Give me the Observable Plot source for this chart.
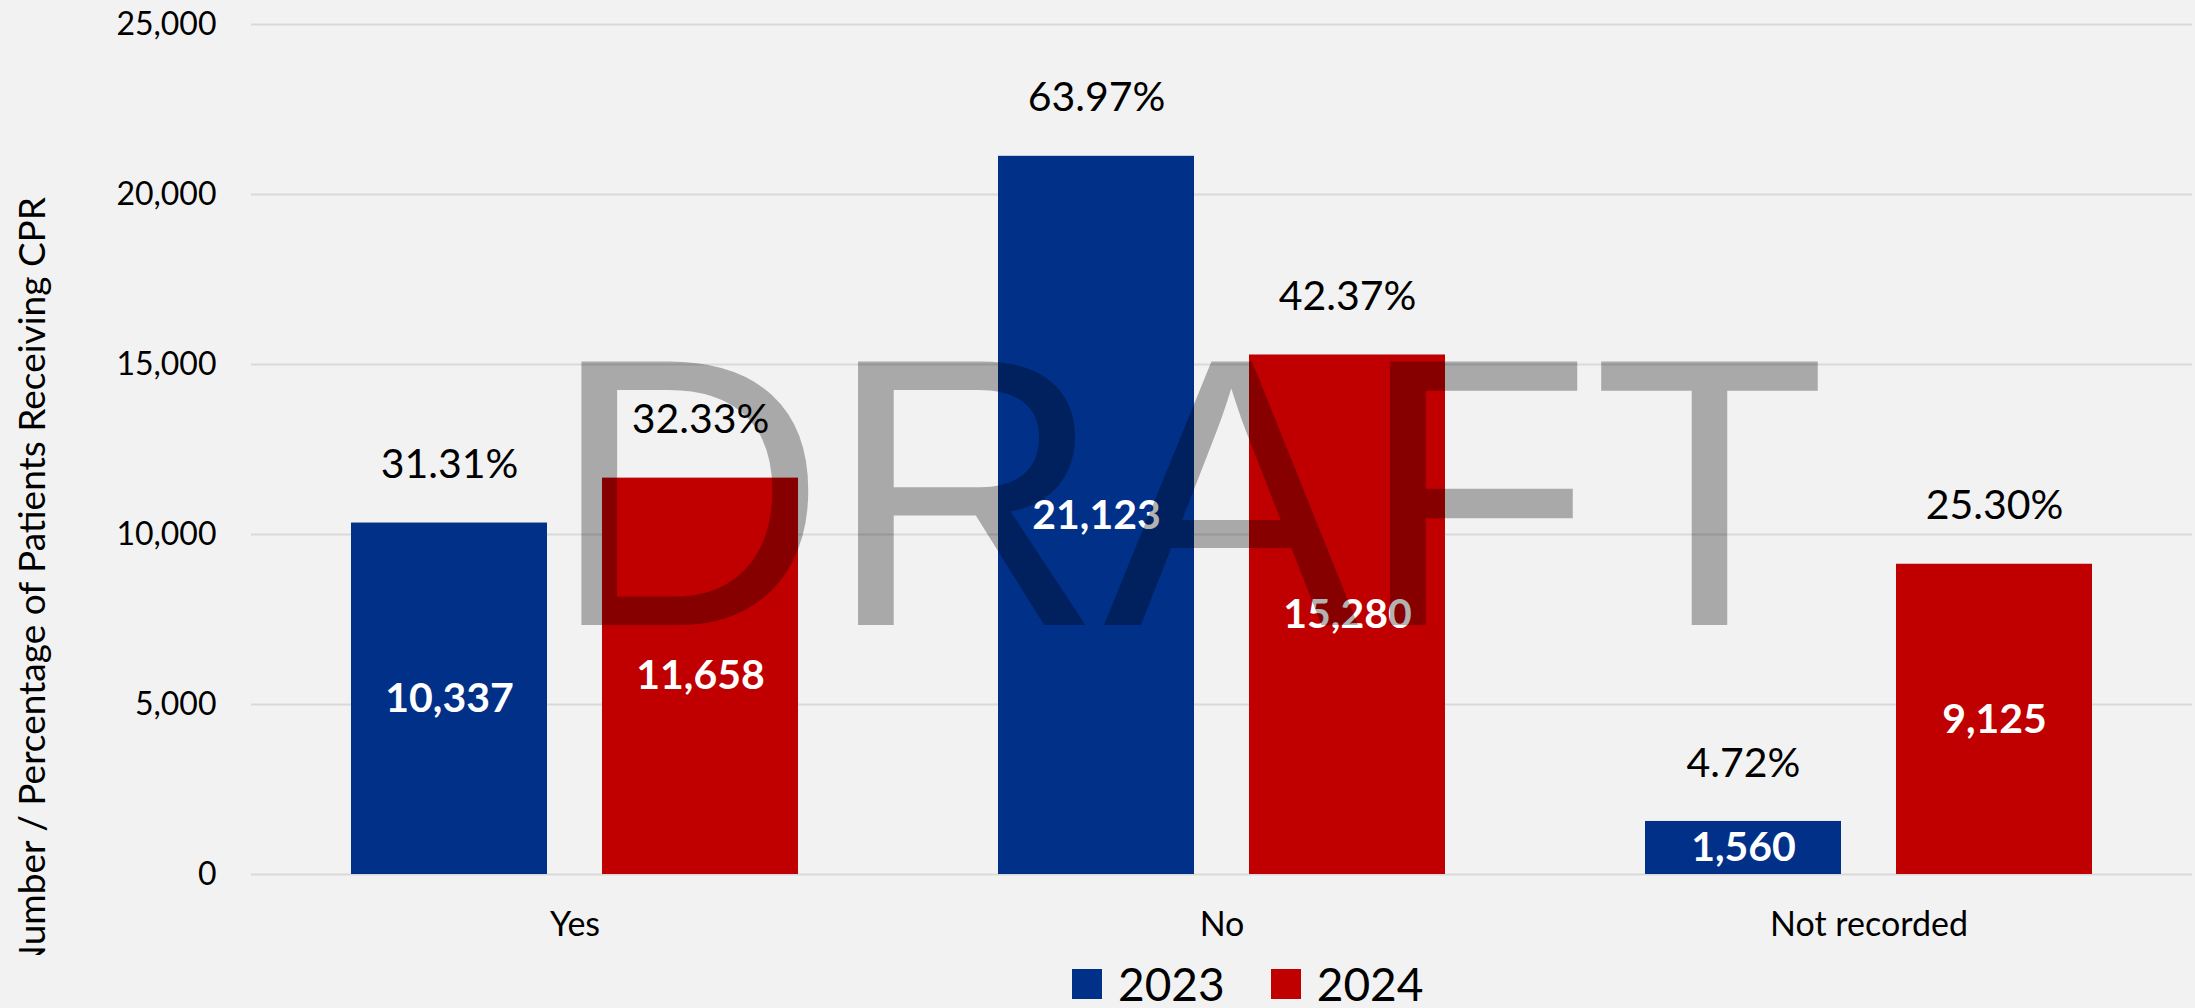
<!DOCTYPE html>
<html>
<head>
<meta charset="utf-8">
<script src="https://cdn.jsdelivr.net/npm/d3@7"></script>
<script src="https://cdn.jsdelivr.net/npm/@observablehq/plot@0.6"></script>
<style>
  html, body { margin: 0; padding: 0; background: #f2f2f2; }
  #chart { width: 2195px; }
  #legend { display: flex; align-items: center; font-family: Lato, sans-serif; font-size: 46px; line-height: 46px; height: 46px; margin-top: 6px; padding-left: 1072px; color: #000; }
  #legend .item { display: flex; align-items: center; margin-right: 46px; }
  #legend .sw { width: 30px; height: 30px; margin-right: 16px; }
</style>
</head>
<body>
<div id="chart"></div>
<script>
// ---- data ----
const categories = ["Yes", "No", "Not recorded"];
const years = ["2023", "2024"];
const counts2023 = [10337, 21123, 1560];
const counts2024 = [11658, 15280, 9125];
const pct2023 = ["31.31%", "63.97%", "4.72%"];
const pct2024 = ["32.33%", "42.37%", "25.30%"];
const yTicks = [0, 5000, 10000, 15000, 20000, 25000];
const yearColors = ["#003087", "#C00000"];
const yTitle = "Number / Percentage of Patients Receiving CPR";
const watermark = "DRAFT";

const rows = [];
categories.forEach((c, i) => {
  rows.push({category: c, year: years[0], count: counts2023[i], pct: pct2023[i]});
  rows.push({category: c, year: years[1], count: counts2024[i], pct: pct2024[i]});
});
const fmt = d3.format(",");

const W = 2195, H = 955;
const svg = Plot.plot({
  width: W,
  height: H,
  marginLeft: 250,
  marginRight: 2,
  marginTop: 24,
  marginBottom: 81,
  style: {background: "#f2f2f2", fontFamily: "Lato, sans-serif", color: "#000"},
  fx: {domain: categories, padding: 0, label: null},
  x: {domain: years, paddingInner: 0.218, paddingOuter: 0.394, axis: null},
  y: {domain: [0, 25000], label: null},
  color: {domain: years, range: yearColors},
  marks: [
    Plot.gridY(yTicks, {stroke: "#d9d9d9", strokeOpacity: 1, strokeWidth: 2}),
    Plot.axisY(yTicks, {tickSize: 0, tickPadding: 35, fontSize: 32, tickFormat: fmt, label: null}),
    Plot.axisFx({anchor: "bottom", tickSize: 0, tickPadding: 37, fontSize: 34, label: null}),
    Plot.barY(rows, {fx: "category", x: "year", y: "count", fill: "year"}),
    Plot.text(rows, {fx: "category", x: "year", y: "count", text: "pct", dy: -58, fontSize: 41, fill: "#000"}),
    Plot.text(rows, {fx: "category", x: "year", y: d => d.count / 2, text: d => fmt(d.count), fill: "white", fontWeight: "bold", fontSize: 41})
  ]
});
document.getElementById("chart").appendChild(svg);

// y-axis title
d3.select(svg).append("text")
  .attr("transform", "translate(45,197) rotate(-90)")
  .attr("text-anchor", "end")
  .attr("font-family", "Lato, sans-serif")
  .attr("font-size", 37)
  .attr("fill", "#000")
  .text(yTitle);

// watermark
d3.select(svg).append("text")
  .attr("x", 550).attr("y", 625)
  .attr("text-anchor", "start")
  .attr("font-family", "'Liberation Sans', Arial, sans-serif")
  .attr("font-size", 383)
  .attr("fill", "#000")
  .attr("fill-opacity", 0.3)
  .text(watermark);

// legend
const legend = d3.select("body").append("div").attr("id", "legend");
years.forEach((y, i) => {
  const it = legend.append("div").attr("class", "item");
  it.append("div").attr("class", "sw").style("background", yearColors[i]);
  it.append("span").text(y);
});
</script>
</body>
</html>
